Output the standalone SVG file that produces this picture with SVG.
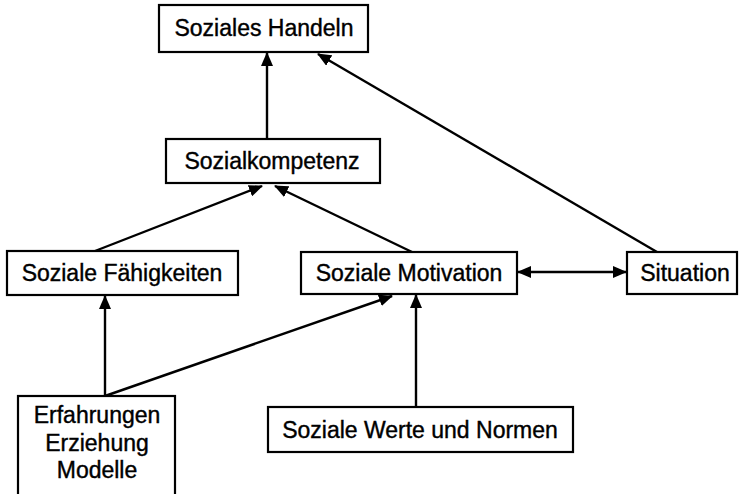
<svg xmlns="http://www.w3.org/2000/svg" width="742" height="494" viewBox="0 0 742 494">
<style>
.box{fill:#fff;stroke:#000;stroke-width:2.2}
.t{font-family:"Liberation Sans",Arial,sans-serif;font-size:23px;fill:#000;stroke:#000;stroke-width:0.4;text-anchor:middle}
.c{stroke:#000;stroke-width:2.4;fill:none}
</style>
<defs>
<marker id="ah" viewBox="0 0 14 12" refX="13" refY="6" markerWidth="14" markerHeight="12" markerUnits="userSpaceOnUse" orient="auto-start-reverse">
<path d="M0,0 L14,6 L0,12 Z" fill="#000"/>
</marker>
</defs>
<rect width="742" height="494" fill="#fff"/>
<g id="connectors">
<line class="c" x1="267" y1="139" x2="267" y2="53" marker-end="url(#ah)"/>
<line class="c" x1="657" y1="252" x2="318" y2="54" marker-end="url(#ah)"/>
<line class="c" x1="95" y1="251" x2="262" y2="186" marker-end="url(#ah)"/>
<line class="c" x1="412" y1="252" x2="275" y2="186" marker-end="url(#ah)"/>
<line class="c" x1="518" y1="272" x2="626" y2="272" marker-start="url(#ah)" marker-end="url(#ah)"/>
<line class="c" x1="105" y1="396" x2="105" y2="296" marker-end="url(#ah)"/>
<line class="c" x1="105" y1="396" x2="392" y2="296" marker-end="url(#ah)"/>
<line class="c" x1="416" y1="407" x2="416" y2="295" marker-end="url(#ah)"/>
</g>
<g id="soziales-handeln">
<rect class="box" x="159" y="5" width="209" height="47"/>
<text class="t" x="264" y="36">Soziales Handeln</text>
</g>
<g id="sozialkompetenz">
<rect class="box" x="166" y="139" width="214" height="44"/>
<text class="t" x="272" y="169">Sozialkompetenz</text>
</g>
<g id="soziale-faehigkeiten">
<rect class="box" x="7" y="251" width="231" height="44"/>
<text class="t" x="122" y="281">Soziale Fähigkeiten</text>
</g>
<g id="soziale-motivation">
<rect class="box" x="301" y="252" width="216" height="42"/>
<text class="t" x="409" y="281">Soziale Motivation</text>
</g>
<g id="situation">
<rect class="box" x="627" y="252" width="110" height="42"/>
<text class="t" x="685" y="281">Situation</text>
</g>
<g id="erfahrungen">
<rect class="box" x="18" y="396" width="157" height="110"/>
<text class="t" x="97" y="423">Erfahrungen</text>
<text class="t" x="97" y="451">Erziehung</text>
<text class="t" x="97" y="478">Modelle</text>
</g>
<g id="soziale-werte">
<rect class="box" x="268" y="407" width="305" height="45"/>
<text class="t" x="420" y="438">Soziale Werte und Normen</text>
</g>
</svg>
